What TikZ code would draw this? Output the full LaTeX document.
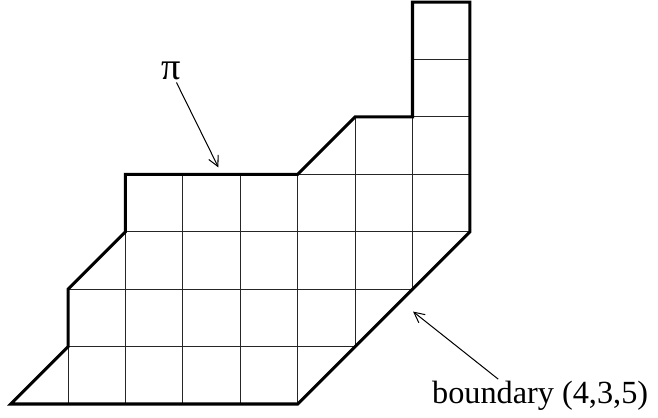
\documentclass[tikz,border=0pt]{standalone}
\usepackage{fontspec}
\setmainfont{Liberation Serif}
\usetikzlibrary{arrows.meta}

\begin{document}
\begin{tikzpicture}[
    gridln/.style={line width=0.5pt, color=black!85},
    bound/.style={line width=1.5pt, line join=miter},
    arr/.style={-{Straight Barb[length=1.8mm, width=1.8mm]}, line width=0.5pt},
    lbl/.style={font=\fontsize{16}{19}\selectfont, inner sep=1pt}
]
\useasboundingbox (-0.186,-0.244) rectangle (11.277,7.038);

\begin{scope}
\clip (0,0) -- (1,1) -- (1,2) -- (2,3) -- (2,4) -- (5,4) -- (6,5) -- (7,5) -- (7,7) -- (8,7) -- (8,3) -- (5,0) -- cycle;
\draw[gridln] (0,0) grid (8,7);
\end{scope}

\draw[bound] (0,0) -- (1,1) -- (1,2) -- (2,3) -- (2,4) -- (5,4) -- (6,5) -- (7,5) -- (7,7) -- (8,7) -- (8,3) -- (5,0) -- cycle;

\node[lbl, font=\fontsize{19}{22}\selectfont] (pi) at (2.79,5.80) {π};
\coordinate (pitip) at (3.62,4.12);
\draw[arr] (pi) -- (pitip);

\node[lbl, anchor=base west] (bnd) at (7.30,0.0) {boundary (4,3,5)};
\coordinate (btip) at (7.01,1.61);
\draw[arr] ([xshift=-0.73cm]bnd.north) -- (btip);

\end{tikzpicture}
\end{document}
